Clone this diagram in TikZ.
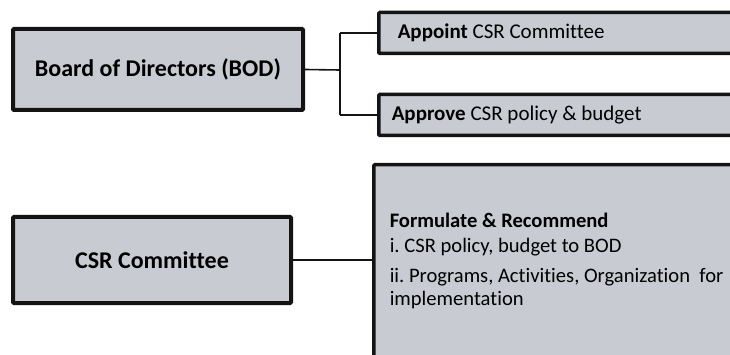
\documentclass[tikz,border=0pt]{standalone}
\usepackage{fontspec}
\setmainfont{Carlito}[Ligatures=CommonOff]
\frenchspacing
\definecolor{boxfill}{RGB}{200,204,210}
\definecolor{boxline}{RGB}{20,20,20}
\tikzset{
  mainbox/.style={draw=boxline, line width=4pt, fill=boxfill, rounded corners=1pt, inner sep=0pt, font=\fontsize{24}{28}\selectfont\bfseries},
  sidebox/.style={draw=boxline, line width=3.5pt, fill=boxfill, rounded corners=1pt, inner ysep=0pt, align=flush left, font=\fontsize{21}{25}\selectfont\frenchspacing},
  link/.style={draw=boxline, line width=1.6pt},
}
\begin{document}
\begin{tikzpicture}[x=1pt,y=-1pt]
\useasboundingbox (0,0) rectangle (730,355);
\clip (0,0) rectangle (730,355);
% left boxes
\node[mainbox, minimum width=290pt, minimum height=81pt] (bod) at (158,69.5) {Board of Directors (BOD)};
\node[mainbox, minimum width=278pt, minimum height=86pt] (csr) at (152,260) {CSR Committee};
% right boxes
\node[sidebox, anchor=west, text width=360pt, minimum height=41pt, inner xsep=19pt] (appoint) at (377,33) {\textbf{Appoint} CSR Committee};
\node[sidebox, anchor=west, text width=360pt, minimum height=41pt, inner xsep=13pt] (approve) at (377,115) {\textbf{Approve} CSR policy \& budget};
\node[sidebox, anchor=north west, text width=360pt, minimum height=193pt, inner xsep=16pt, font=\fontsize{20.6}{25}\selectfont\frenchspacing] (formulate) at (372,163)
  {\textbf{Formulate \& Recommend}\\
   i. CSR policy, budget to BOD\\[5pt]
   ii. Programs, Activities, Organization\ \ for\\[-2pt]
   implementation};
% connectors
\coordinate (fork) at (340,70);
\draw[link] (bod.east) -- (fork);
\draw[link] (fork |- appoint.west) -- (fork |- approve.west);
\draw[link] (fork |- appoint.west) -- (appoint.west);
\draw[link] (fork |- approve.west) -- (approve.west);
\draw[link] (csr.east) -- (csr.east -| formulate.west);
\end{tikzpicture}
\end{document}
